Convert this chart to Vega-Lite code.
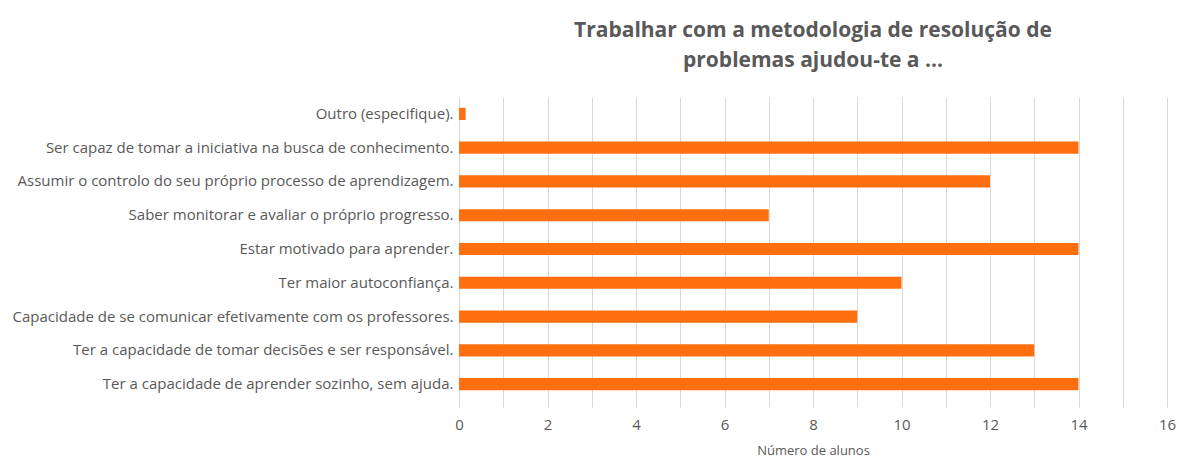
{
  "$schema": "https://vega.github.io/schema/vega-lite/v6.json",
  "autosize": {"type": "none"},
  "padding": {"left": 459, "top": 97, "right": 12, "bottom": 60},
  "width": 708,
  "height": 304,
  "background": "white",
  "title": {
    "text": ["Trabalhar com a metodologia de resolução de", "problemas ajudou-te a ..."],
    "font": "Open Sans",
    "fontSize": 21,
    "fontWeight": "bold",
    "color": "#595959",
    "lineHeight": 30,
    "anchor": "middle",
    "offset": 26
  },
  "data": {
    "values": [
      {"item": "Outro (especifique).", "alunos": 0.15},
      {"item": "Ser capaz de tomar a iniciativa na busca de conhecimento.", "alunos": 14},
      {"item": "Assumir o controlo do seu próprio processo de aprendizagem.", "alunos": 12},
      {"item": "Saber monitorar e avaliar o próprio progresso.", "alunos": 7},
      {"item": "Estar motivado para aprender.", "alunos": 14},
      {"item": "Ter maior autoconfiança.", "alunos": 10},
      {"item": "Capacidade de se comunicar efetivamente com os professores.", "alunos": 9},
      {"item": "Ter a capacidade de tomar decisões e ser responsável.", "alunos": 13},
      {"item": "Ter a capacidade de aprender sozinho, sem ajuda.", "alunos": 14}
    ]
  },
  "mark": {"type": "bar", "color": "#FF6F10"},
  "encoding": {
    "y": {
      "field": "item",
      "type": "nominal",
      "sort": null,
      "scale": {"paddingInner": 0.64, "paddingOuter": 0.32},
      "axis": {
        "title": null,
        "ticks": false,
        "domain": false,
        "labelFont": "Open Sans",
        "labelFontSize": 15,
        "labelColor": "#595959",
        "labelPadding": 6,
        "labelLimit": 500
      }
    },
    "x": {
      "field": "alunos",
      "type": "quantitative",
      "scale": {"domain": [0, 16], "nice": false},
      "axis": {
        "title": "Número de alunos",
        "titleFont": "Open Sans",
        "titleFontSize": 13,
        "titleFontWeight": "normal",
        "titleColor": "#595959",
        "titlePadding": 12,
        "values": [0,1,2,3,4,5,6,7,8,9,10,11,12,13,14,15,16],
        "labelExpr": "datum.value % 2 == 0 ? datum.label : ''",
        "labelFont": "Open Sans",
        "labelFontSize": 15,
        "labelColor": "#595959",
        "labelPadding": 10,
        "labelFlush": false,
        "domain": false,
        "grid": true,
        "gridColor": "#D9D9D9",
        "tickColor": "#D9D9D9",
        "tickSize": 6
      }
    }
  },
  "config": {"view": {"stroke": null}}
}
